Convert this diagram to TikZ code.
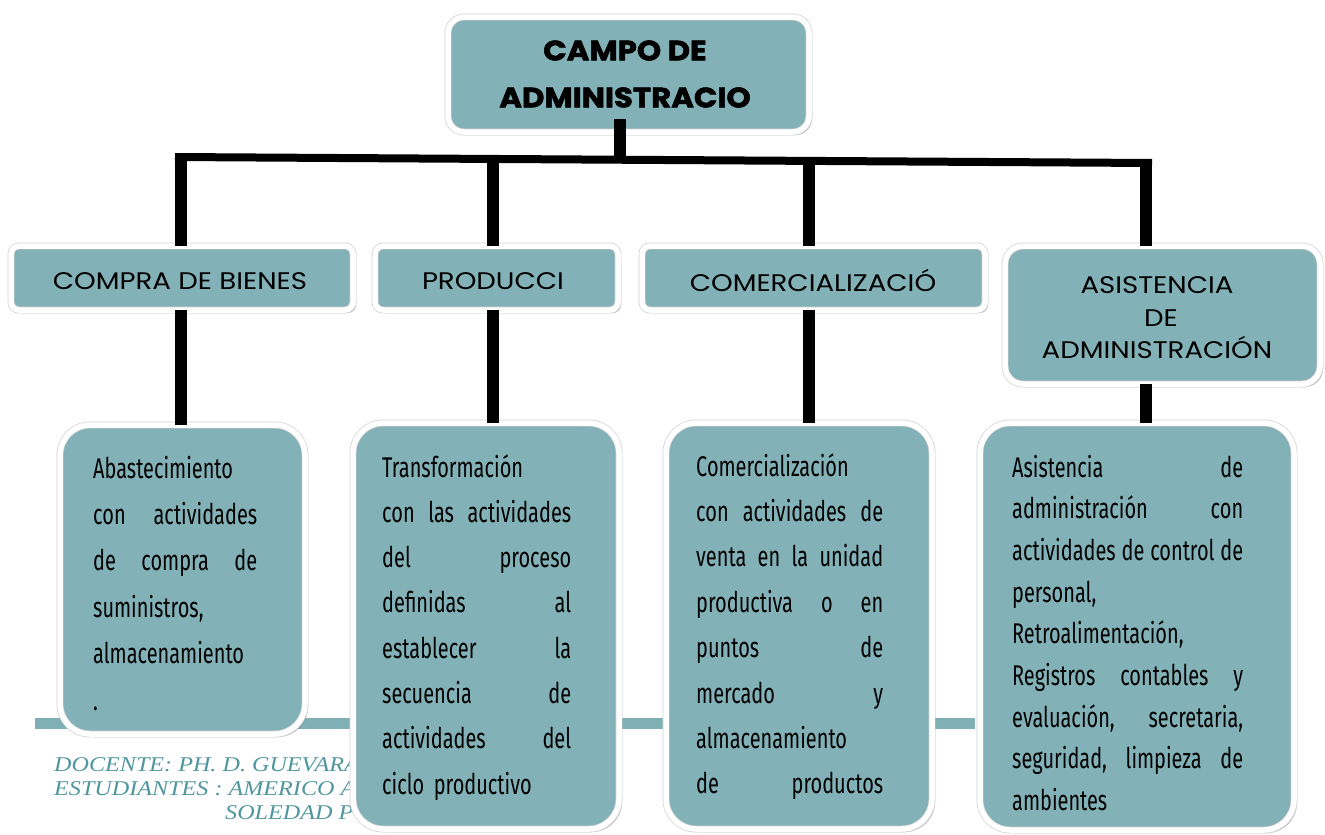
\documentclass[tikz,border=0pt]{standalone}
\usepackage{fontspec}
\usetikzlibrary{shadows}
\setmainfont{Fira Sans}
\newfontfamily\bodyfont[FakeStretch=0.70, WordSpace=0.8]{Fira Sans}
\newfontfamily\labelfont[FakeStretch=1.15]{Poppins}
\newfontfamily\titlefont[FakeStretch=1.1, BoldFeatures={FakeBold=2}]{Poppins}
\newfontfamily\footfont[FakeStretch=1.15]{Liberation Serif}
\definecolor{tealfill}{RGB}{130,178,184}
\definecolor{bandc}{RGB}{127,176,182}
\definecolor{footteal}{RGB}{80,150,158}
\tikzset{
  box/.style={draw=black!18, line width=0.7pt, double=white, double distance=5.5pt,
    fill=tealfill, inner sep=0pt,
    drop shadow={shadow xshift=3pt, shadow yshift=-3pt, fill=black!45, opacity=0.55}},
  conn/.style={line width=12pt, black},
  busline/.style={line width=8pt, black},
  lbl/.style={font=\labelfont\fontsize{24}{32.5}\selectfont, align=center, inner sep=0pt},
  body/.style={text width=#1, align=left, anchor=base west, inner sep=0pt},
  foot/.style={font=\footfont\itshape\fontsize{21}{24}\selectfont, text=footteal, anchor=base west, inner sep=0pt},
}
\begin{document}
\begin{tikzpicture}[x=1pt,y=-1pt]
\useasboundingbox (0,0) rectangle (1325,835);
\fill[white] (0,0) rectangle (1325,835);

% band and footer
\fill[bandc] (35,718) rectangle (975,729);
\node[foot] (f1) at (54,771) {DOCENTE: PH. D. GUEVARA};
\node[foot] (f2) at (54,795) {ESTUDIANTES : AMERICO A};
\node[foot] (f3) at (225,819) {SOLEDAD P};

% coordinates
\coordinate (busL) at (175,157);
\coordinate (busR) at (1152,163);
\coordinate (k1) at (181,157.5);
\coordinate (k2) at (493,158.5);
\coordinate (k3) at (809,160);
\coordinate (k4) at (1146,162);
\coordinate (s0) at (620,119);
\coordinate (s1) at (620,160);

% boxes (nodes)
\path
 node[box, rounded corners=16pt, minimum width=361pt, minimum height=115pt] (top) at (628.5,74.5) {}
 node[box, rounded corners=8pt, minimum width=342pt, minimum height=64pt] (compra) at (182,278) {}
 node[box, rounded corners=8pt, minimum width=243pt, minimum height=64pt] (produc) at (496.5,278) {}
 node[box, rounded corners=8pt, minimum width=343pt, minimum height=64pt] (comer) at (813.5,278) {}
 node[box, rounded corners=18pt, minimum width=315pt, minimum height=138pt] (asist) at (1162.5,315) {};

% connectors
\draw[busline] (busL) -- (busR);
\draw[conn] (k1) -- (k1 |- compra.north);
\draw[conn] (k2) -- (k2 |- produc.north);
\draw[conn] (k3) -- (k3 |- comer.north);
\draw[conn] (k4) -- (k4 |- asist.north);
\draw[conn] (s0) -- (s1);

\path
 node[box, rounded corners=30pt, minimum width=245pt, minimum height=309pt] (b1) at (182.5,579.5) {}
 node[box, rounded corners=30pt, minimum width=266pt, minimum height=406pt] (b2) at (486,626) {}
 node[box, rounded corners=30pt, minimum width=266pt, minimum height=406pt] (b3) at (799,626) {}
 node[box, rounded corners=30pt, minimum width=314pt, minimum height=407pt] (b4) at (1137,626.5) {};

\draw[conn] (k1 |- compra.south) -- (k1 |- b1.north);
\draw[conn] (k2 |- produc.south) -- (k2 |- b2.north);
\draw[conn] (k3 |- comer.south) -- (k3 |- b3.north);
\draw[conn] (k4 |- asist.south) -- (k4 |- b4.north);

% texts
\node[font=\titlefont\bfseries\fontsize{28}{47}\selectfont, align=center, inner sep=0pt] (toptxt) at (625,74) {CAMPO DE\\ADMINISTRACIO};
\node[lbl] (compratxt) at (180,281) {COMPRA DE BIENES};
\node[lbl] (productxt) at (493,281) {PRODUCCI};
\node[lbl] (comertxt) at (813,280) {COMERCIALIZACIÓ};
\node[lbl] (asisttxt) at (1157,318) {ASISTENCIA\\\hspace{8pt}DE\\ADMINISTRACIÓN};

\node[body=164pt, font=\bodyfont\fontsize{28.5}{46.4}\selectfont] (t1) at (93,478) {%
Abastecimiento\\
con\hfill actividades\\
de\hfill compra\hfill de\\
suministros,\\
almacenamiento\\
.};

\node[body=189pt, font=\bodyfont\fontsize{28.5}{45.3}\selectfont] (t2) at (382,477) {%
Transformación\\
con\hfill las\hfill actividades\\
del\hfill proceso\\
definidas\hfill al\\
establecer\hfill la\\
secuencia\hfill de\\
actividades\hfill del\\
ciclo productivo};

\node[body=187pt, font=\bodyfont\fontsize{28.5}{45.4}\selectfont] (t3) at (696,476) {%
Comercialización\\
con\hfill actividades\hfill de\\
venta\hfill en\hfill la\hfill unidad\\
productiva\hfill o\hfill en\\
puntos\hfill de\\
mercado\hfill y\\
almacenamiento\\
de\hfill productos};

\node[body=231pt, font=\bodyfont\fontsize{28.5}{41.7}\selectfont] (t4) at (1012,477) {%
Asistencia\hfill de\\
administración\hfill con\\
actividades\hfill de\hfill control\hfill de\\
personal,\\
Retroalimentación,\\
Registros\hfill contables\hfill y\\
evaluación,\hfill secretaria,\\
seguridad,\hfill limpieza\hfill de\\
ambientes};
\end{tikzpicture}
\end{document}
